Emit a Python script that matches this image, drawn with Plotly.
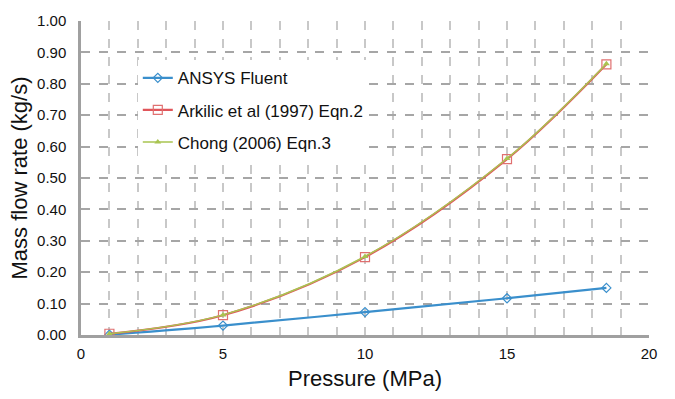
import plotly.graph_objects as go

pressure = [1, 5, 10, 15, 18.5]
ansys = [0.001, 0.030, 0.073, 0.117, 0.150]
arkilic = [0.004, 0.063, 0.248, 0.560, 0.862]
chong = [0.004, 0.064, 0.250, 0.562, 0.864]

font_family = "Arial, Liberation Sans, sans-serif"

fig = go.Figure()
fig.add_trace(go.Scatter(
    x=pressure, y=ansys, name="ANSYS Fluent", mode="lines+markers",
    line=dict(color="#3A8FCC", width=2.2, shape="spline"),
    marker=dict(symbol="diamond-open", size=7, color="#3A8FCC", line=dict(width=1.2)),
    legendgroup="a"))
fig.add_trace(go.Scatter(
    x=pressure, y=arkilic, name="Arkilic et al (1997) Eqn.2", mode="lines+markers",
    line=dict(color="#E0555A", width=2.2, shape="spline"),
    marker=dict(symbol="square-open", size=9, color="#E07070", line=dict(width=1.2)),
    legendgroup="b"))
fig.add_trace(go.Scatter(
    x=pressure, y=chong, name="Chong (2006) Eqn.3", mode="lines+markers",
    line=dict(color="#A9C451", width=1.5, shape="spline"),
    marker=dict(symbol="triangle-up", size=6, color="#A9C451"),
    legendgroup="c"))

fig.update_layout(
    width=675, height=399,
    margin=dict(l=81, r=26, t=17, b=63),
    paper_bgcolor="white", plot_bgcolor="white",
    font=dict(family=font_family, color="#111111", size=15),
    legend=dict(x=0.1, y=0.875, xanchor="left", yanchor="top",
                font=dict(size=17), tracegroupgap=7, bgcolor="white"),
    xaxis=dict(
        range=[0, 20], tickmode="linear", tick0=0, dtick=5,
        showgrid=True, gridcolor="#c8c8c8", griddash="dash", gridwidth=1.5,
        minor=dict(dtick=1, showgrid=True, gridcolor="#c8c8c8", griddash="dash", gridwidth=1.5),
        showline=True, linecolor="#a0a0a0", linewidth=2.5,
        ticks="", zeroline=False,
        title=dict(text="Pressure (MPa)", font=dict(size=22), standoff=10),
        tickfont=dict(size=15), ticklabelstandoff=3),
    yaxis=dict(
        range=[0, 1.0], tickmode="linear", tick0=0, dtick=0.1, tickformat=".2f",
        showgrid=True, gridcolor="#a6a6a6", griddash="dash", gridwidth=1.5,
        showline=True, linecolor="#a0a0a0", linewidth=2.5,
        ticks="", zeroline=False,
        title=dict(text="Mass flow rate (kg/s)", font=dict(size=22), standoff=4),
        tickfont=dict(size=15), ticklabelstandoff=9),
)

fig.write_html("out.html")
